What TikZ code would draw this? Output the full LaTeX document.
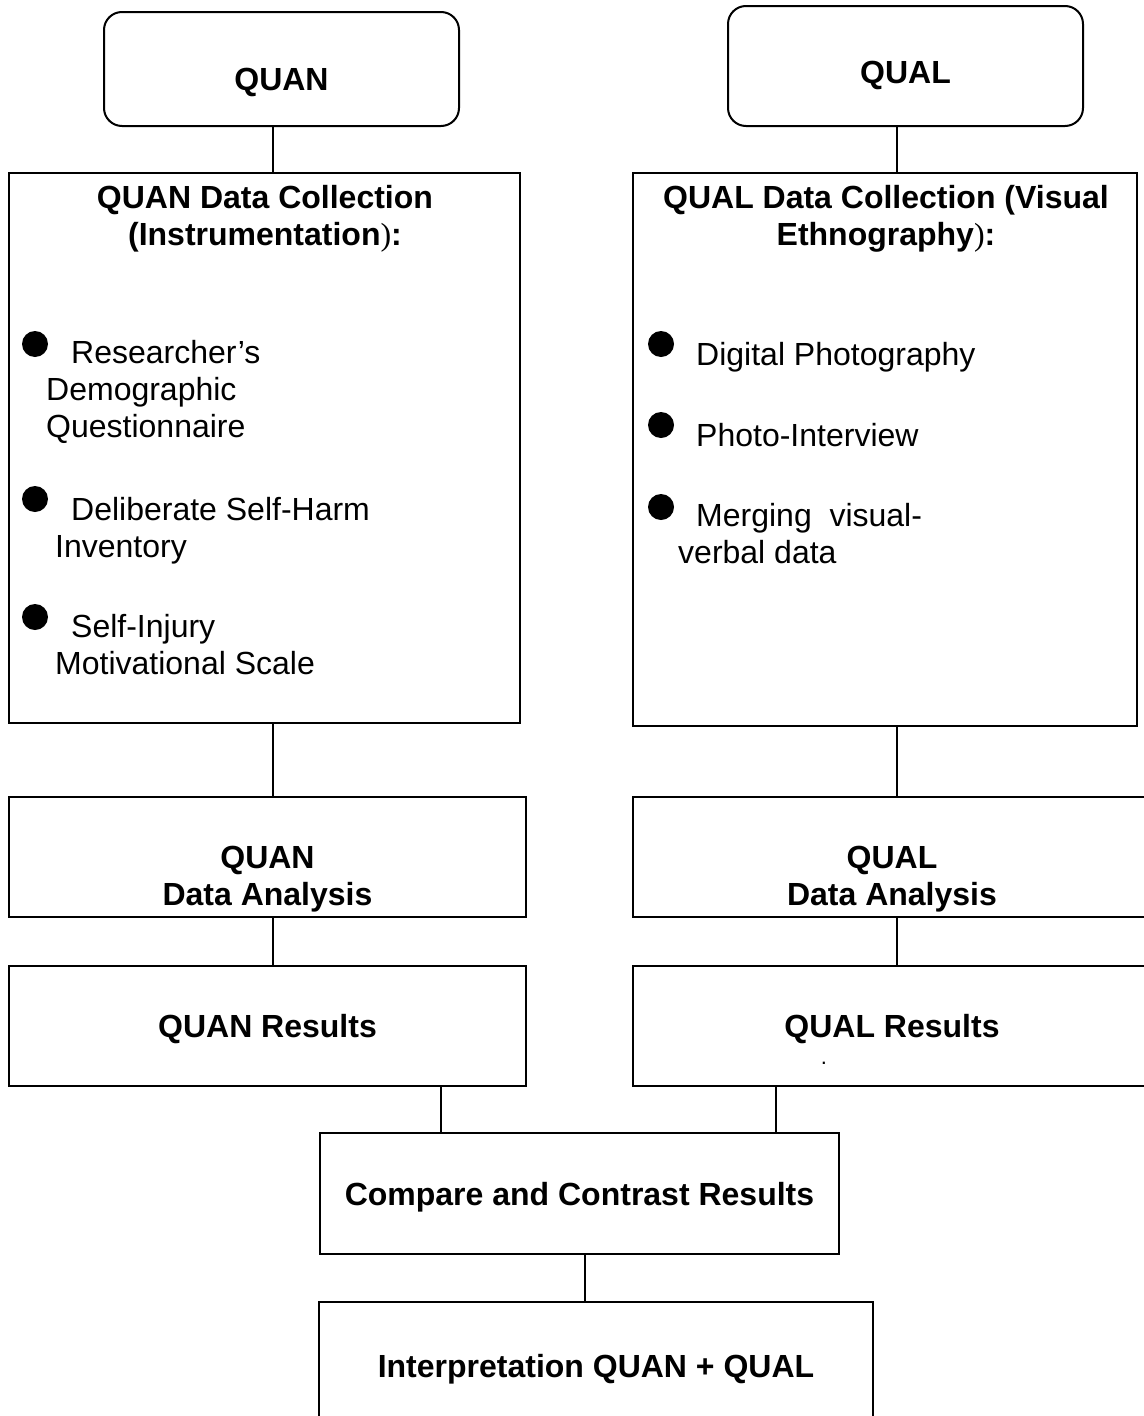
\documentclass[tikz,border=0pt]{standalone}
\usepackage{fontspec}
\setmainfont{Liberation Sans}
\newfontfamily\parenfont{Liberation Serif}
\usepackage{tikz}

\newcommand\boxfont{\fontsize{32}{37}\selectfont}

\tikzset{
  box/.style={draw, line width=2pt, inner sep=0pt},
  roundbox/.style={box, rounded corners=18pt},
  onebox/.style={box, font=\boxfont\bfseries, text height=23pt, text depth=0pt},
  heading/.style={font=\boxfont\bfseries, align=center, anchor=base, inner sep=0pt},
  entry/.style={font=\boxfont, align=left, anchor=base west, inner sep=0pt},
  bullet/.style={circle, fill, inner sep=0pt, minimum size=26pt},
  link/.style={line width=1.5pt}
}

\begin{document}
\begin{tikzpicture}[x=1pt, y=-1pt]
    \useasboundingbox (0,0) rectangle (1143,1416);

    % x positions of the vertical links
    \coordinate (colL) at (273,0);
    \coordinate (colR) at (897,0);
    \coordinate (resL) at (441,0);
    \coordinate (resR) at (776,0);
    \coordinate (mid) at (585,0);

    % strands
    \node[roundbox, minimum width=355pt, minimum height=114pt] (quan) at (281.5,69) {};
    \node[roundbox, minimum width=355pt, minimum height=120pt] (qual) at (905.5,66) {};
    \node[heading] (quan-t) at (281.5,90) {QUAN};
    \node[heading] (qual-t) at (905.5,83) {QUAL};

    % data collection (multi-line text sits on its last baseline)
    \node[box, minimum width=511.5pt, minimum height=550pt] (quancol) at (264.25,448) {};
    \node[box, minimum width=504pt, minimum height=553pt] (qualcol) at (885,449.5) {};
    \node[heading] (quancol-t) at (265,245) {QUAN Data Collection\\(Instrumentation{\parenfont\mdseries)}:};
    \node[heading] (qualcol-t) at (886,245) {QUAL Data Collection (Visual\\Ethnography{\parenfont\mdseries)}:};

    \foreach \y [count=\i] in {344,499,617} \node[bullet] (lb\i) at (35,\y) {};
    \foreach \y [count=\i] in {344,425,507} \node[bullet] (rb\i) at (661,\y) {};

    \node[entry] (le1) at (46,437) {\hspace*{25pt}Researcher’s\\Demographic\\Questionnaire};
    \node[entry] (le2) at (55,557) {\hspace*{16pt}Deliberate Self-Harm\\Inventory};
    \node[entry] (le3) at (55,674) {\hspace*{16pt}Self-Injury\\Motivational Scale};
    \node[entry] (re1) at (696,365) {Digital Photography};
    \node[entry] (re2) at (696,446) {Photo-Interview};
    \node[entry] (re3) at (678,563) {\hspace*{18pt}Merging\ \ visual-\\verbal data};

    % analysis
    \node[box, minimum width=517pt, minimum height=120pt] (quanana) at (267.5,857) {};
    \node[box, minimum width=518pt, minimum height=120pt] (qualana) at (892,857) {};
    \node[heading] (quanana-t) at (267.5,905) {QUAN\\Data Analysis};
    \node[heading] (qualana-t) at (892,905) {QUAL\\Data Analysis};

    % results
    \node[onebox, minimum width=517pt, minimum height=120pt] (quanres) at (267.5,1026) {QUAN Results};
    \node[onebox, minimum width=518pt, minimum height=120pt] (qualres) at (892,1026) {QUAL Results};
    \node[font=\fontsize{22}{22}\selectfont, anchor=base, inner sep=0pt] (qualres-dot) at (824,1064) {.};

    \node[onebox, minimum width=519pt, minimum height=121pt] (compare) at (579.5,1193.5) {Compare and Contrast Results};
    \node[onebox, minimum width=554pt, minimum height=127pt] (interp) at (596,1365.5) {Interpretation QUAN + QUAL};

    % links
    \foreach \a/\b/\c in {quan/quancol/colL, qual/qualcol/colR, quancol/quanana/colL,
        qualcol/qualana/colR, quanana/quanres/colL, qualana/qualres/colR,
        quanres/compare/resL, qualres/compare/resR, compare/interp/mid}
        \draw[link] (\a.south -| \c) -- (\b.north -| \c);
\end{tikzpicture}
\end{document}
